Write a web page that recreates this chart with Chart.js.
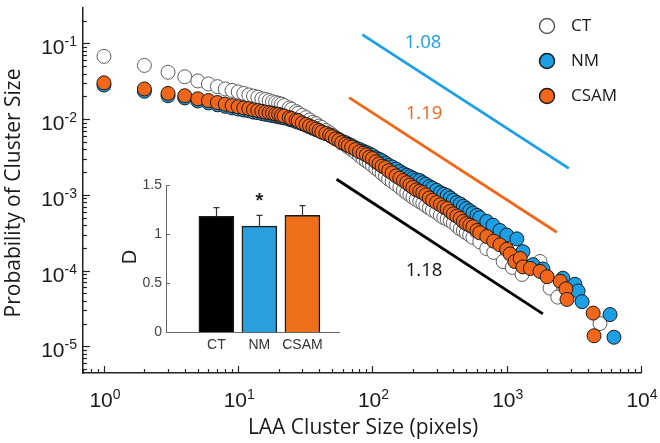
<!DOCTYPE html>
<html>
<head>
<meta charset="utf-8">
<script src="https://cdn.jsdelivr.net/npm/chart.js@4.4.0/dist/chart.umd.min.js"></script>
<style>
  html, body { margin: 0; padding: 0; background: #fff; }
  #wrap { position: relative; width: 660px; height: 443px; }
  #main { position: absolute; left: 0; top: 0; }
  #inset { position: absolute; left: 100px; top: 160px; }
</style>
</head>
<body>
<div id="wrap">
  <canvas id="main" width="660" height="443"></canvas>
  <canvas id="inset" width="250" height="200"></canvas>
</div>
<script>
// cluster size distributions
const ctX = [1,2,3,4,5,6,7,8,9,10,11,12,13,14,15,16,17,18,19,20,21,22,24,25,27,28,30,32,34,36,38,40,42,45,48,50,53,56,59,63,66,70,75,80,85,90,95,100,106,112,118,125,132,140,150,160,170,180,190,200,212,225,237,250,265,280,300,320,340,360,380,400,425,450,475,500,530,560,600,630,710,800,940,1100,1300,1770,2100,2400,4950];
const ctY = [0.0676,0.0513,0.0417,0.0363,0.0320,0.0292,0.0269,0.0251,0.0240,0.0229,0.0219,0.0209,0.0202,0.0195,0.0186,0.0182,0.0176,0.0170,0.0166,0.0162,0.0158,0.0151,0.0141,0.0135,0.0126,0.0120,0.0112,0.0105,0.00977,0.00912,0.00871,0.00813,0.00776,0.00708,0.00661,0.00617,0.00575,0.00537,0.00490,0.00457,0.00427,0.00398,0.00363,0.00331,0.00302,0.00282,0.00263,0.00245,0.00224,0.00209,0.00191,0.00178,0.00162,0.00151,0.00138,0.00126,0.00115,0.00107,0.00100,0.000933,0.000871,0.000813,0.000776,0.000724,0.000676,0.000631,0.000589,0.000537,0.000501,0.000479,0.000457,0.000427,0.000389,0.000355,0.000339,0.000316,0.000295,0.000275,0.000324,0.000240,0.000195,0.000174,0.000132,0.000110,0.0000891,0.000132,0.0000589,0.0000447,0.0000200];

const nmX = [1,2,3,4,5,6,7,8,9,10,11,12,13,14,15,16,17,18,19,20,21,22,24,25,27,28,30,32,34,36,38,40,42,45,48,50,53,56,59,63,66,70,75,80,85,90,95,100,106,112,118,125,132,140,150,160,170,180,190,200,212,225,237,250,265,280,300,320,340,360,380,400,425,450,475,500,530,560,600,630,710,790,890,1000,1190,1320,1570,1860,2620,3220,3400,3640,5880,6290];
const nmY = [0.0282,0.0234,0.0204,0.0191,0.0174,0.0164,0.0155,0.0148,0.0141,0.0136,0.0132,0.0129,0.0124,0.0122,0.0119,0.0116,0.0114,0.0112,0.0110,0.0108,0.0106,0.0104,0.0100,0.00977,0.00933,0.00912,0.00871,0.00832,0.00794,0.00759,0.00733,0.00708,0.00676,0.00646,0.00617,0.00589,0.00562,0.00537,0.00513,0.00490,0.00468,0.00447,0.00417,0.00398,0.00380,0.00363,0.00347,0.00331,0.00309,0.00295,0.00282,0.00263,0.00245,0.00234,0.00219,0.00204,0.00191,0.00182,0.00174,0.00166,0.00158,0.00155,0.00145,0.00138,0.00129,0.00123,0.00115,0.00107,0.00102,0.000977,0.000912,0.000851,0.000794,0.000759,0.000708,0.000661,0.000617,0.000575,0.000537,0.000501,0.000447,0.000398,0.000339,0.000295,0.000263,0.000178,0.000120,0.000105,0.0000794,0.0000661,0.0000537,0.0000389,0.0000263,0.0000132];

const csX = [1,2,3,4,5,6,7,8,9,10,11,12,13,14,15,16,17,18,19,20,21,22,24,25,27,28,30,32,34,36,38,40,42,45,48,50,53,56,59,63,66,70,75,80,85,90,95,100,106,112,118,125,132,140,150,160,170,180,190,200,212,225,237,250,265,280,300,320,340,360,380,400,425,450,475,500,530,560,600,630,710,800,890,1000,1060,1150,1260,1320,1500,1770,2000,2500,2760,2810,4400,4470];
const csY = [0.0302,0.0251,0.0219,0.0204,0.0186,0.0176,0.0166,0.0158,0.0151,0.0146,0.0141,0.0138,0.0133,0.0130,0.0127,0.0124,0.0122,0.0120,0.0117,0.0116,0.0112,0.0110,0.0105,0.0102,0.00977,0.00955,0.00891,0.00851,0.00813,0.00776,0.00741,0.00708,0.00676,0.00646,0.00617,0.00589,0.00550,0.00525,0.00490,0.00468,0.00447,0.00427,0.00398,0.00372,0.00355,0.00339,0.00316,0.00302,0.00275,0.00257,0.00240,0.00229,0.00209,0.00195,0.00178,0.00166,0.00155,0.00145,0.00135,0.00126,0.00117,0.00112,0.00107,0.00100,0.000912,0.000851,0.000794,0.000741,0.000692,0.000661,0.000603,0.000562,0.000525,0.000490,0.000447,0.000417,0.000398,0.000380,0.000339,0.000316,0.000282,0.000245,0.000219,0.000191,0.000166,0.000132,0.000145,0.000112,0.000107,0.0000977,0.0000832,0.0000724,0.0000575,0.0000417,0.0000275,0.0000138];

// slope guide lines (end points)
const fitNmX = [84, 2900],  fitNmY = [0.131, 0.00224];
const fitCsX = [67, 2360],  fitCsY = [0.0193, 0.000321];
const fitCtX = [54, 1860],  fitCtY = [0.00161, 0.0000269];
const fitLabels = ['1.08', '1.19', '1.18'];

// inset: fractal dimension D
const groups = ['CT', 'NM', 'CSAM'];
const dValues = [1.18, 1.08, 1.19];
const dErrors = [0.09, 0.11, 0.10];

const BLUE = '#1c9fe4', ORANGE = '#f26619';
const TICK_FONT = '"Liberation Sans", Arial, sans-serif';
const TEXT_FONT = '"Open Sans", "Noto Sans", sans-serif';

const toPts = (xs, ys) => xs.map((x, i) => ({ x, y: ys[i] }));

function drawPow(ctx, exp, x, y, align) {
  ctx.font = '21px ' + TICK_FONT;
  const wb = ctx.measureText('10').width;
  ctx.font = '14px ' + TICK_FONT;
  const we = ctx.measureText(exp).width;
  let left = align === 'center' ? x - (wb + we) / 2 : x - wb - we;
  ctx.textAlign = 'left';
  ctx.textBaseline = 'alphabetic';
  ctx.font = '21px ' + TICK_FONT;
  ctx.fillText('10', left, y);
  ctx.font = '14px ' + TICK_FONT;
  ctx.fillText(exp, left + wb, y - 8);
}

const mainDecor = {
  id: 'mainDecor',
  afterDraw(chart) {
    const ctx = chart.ctx, xs = chart.scales.x, ys = chart.scales.y, a = chart.chartArea;
    ctx.save();
    ctx.strokeStyle = '#222';
    ctx.lineWidth = 1.2;
    // inward log ticks
    for (let e = -1; e <= 4; e++) {
      for (let k = 1; k <= 9; k++) {
        const v = k * Math.pow(10, e);
        if (v < xs.min || v > xs.max) continue;
        const px = Math.round(xs.getPixelForValue(v)) + 0.5;
        ctx.beginPath();
        ctx.moveTo(px, a.bottom);
        ctx.lineTo(px, a.bottom - (k === 1 ? 7 : 4));
        ctx.stroke();
      }
    }
    for (let e = -6; e <= 0; e++) {
      for (let k = 1; k <= 9; k++) {
        const v = k * Math.pow(10, e);
        if (v < ys.min || v > ys.max) continue;
        const py = Math.round(ys.getPixelForValue(v)) + 0.5;
        ctx.beginPath();
        ctx.moveTo(a.left, py);
        ctx.lineTo(a.left + (k === 1 ? 7 : 4), py);
        ctx.stroke();
      }
    }
    // tick labels
    ctx.fillStyle = '#1a1a1a';
    for (let e = 0; e <= 4; e++) {
      drawPow(ctx, String(e), xs.getPixelForValue(Math.pow(10, e)) + 1, a.bottom + 34, 'center');
    }
    for (let e = -5; e <= -1; e++) {
      drawPow(ctx, String(e), a.left - 6, ys.getPixelForValue(Math.pow(10, e)) + 11, 'right');
    }
    // axis titles
    ctx.font = '21px ' + TEXT_FONT;
    ctx.textAlign = 'center';
    ctx.textBaseline = 'middle';
    ctx.fillText('LAA Cluster Size (pixels)', (a.left + a.right) / 2 + 1, 428);
    ctx.save();
    ctx.translate(14, 193);
    ctx.rotate(-Math.PI / 2);
    ctx.fillText('Probability of Cluster Size', 0, 0);
    ctx.restore();
    // slope labels
    ctx.font = '18.5px ' + TEXT_FONT;
    const labelPos = [[238, 0.103, BLUE], [242, 0.0119, ORANGE], [242, 0.0001, '#111']];
    labelPos.forEach((p, i) => {
      ctx.fillStyle = p[2];
      ctx.fillText(fitLabels[i], xs.getPixelForValue(p[0]), ys.getPixelForValue(p[1]));
    });
    // legend
    const sets = chart.data.datasets.slice(0, 3);
    sets.forEach((d, i) => {
      const y = 26 + i * 35;
      ctx.beginPath();
      ctx.arc(547, y, 7.5, 0, Math.PI * 2);
      ctx.fillStyle = d.backgroundColor;
      ctx.fill();
      ctx.lineWidth = 1.5;
      ctx.strokeStyle = d.borderColor;
      ctx.stroke();
      ctx.fillStyle = '#1a1a1a';
      ctx.font = '17px ' + TEXT_FONT;
      ctx.textAlign = 'left';
      ctx.fillText(d.label, 571, y);
    });
    ctx.restore();
  }
};

new Chart(document.getElementById('main'), {
  type: 'scatter',
  data: {
    datasets: [
      { label: 'CT', data: toPts(ctX, ctY), backgroundColor: '#ffffff', borderColor: '#5c5c5c', borderWidth: 1, pointRadius: 7, order: 3 },
      { label: 'NM', data: toPts(nmX, nmY), backgroundColor: BLUE, borderColor: '#1a1a1a', borderWidth: 1, pointRadius: 7, order: 2 },
      { label: 'CSAM', data: toPts(csX, csY), backgroundColor: ORANGE, borderColor: '#1a1a1a', borderWidth: 1, pointRadius: 7, order: 1 },
      { type: 'line', data: toPts(fitNmX, fitNmY), borderColor: BLUE, borderWidth: 2.8, pointRadius: 0, order: 0 },
      { type: 'line', data: toPts(fitCsX, fitCsY), borderColor: ORANGE, borderWidth: 2.8, pointRadius: 0, order: 0 },
      { type: 'line', data: toPts(fitCtX, fitCtY), borderColor: '#000', borderWidth: 2.8, pointRadius: 0, order: 0 }
    ]
  },
  options: {
    responsive: false,
    animation: false,
    devicePixelRatio: 1,
    layout: { padding: { left: 0, right: 19, top: 3, bottom: 0 } },
    plugins: { legend: { display: false }, tooltip: { enabled: false } },
    scales: {
      x: {
        type: 'logarithmic', min: 0.698, max: 10000,
        grid: { display: false, drawTicks: false },
        ticks: { display: false },
        border: { color: '#222', width: 1.5 },
        afterFit: s => { s.height = 70; }
      },
      y: {
        type: 'logarithmic', min: 0.00000445, max: 0.294,
        grid: { display: false, drawTicks: false },
        ticks: { display: false },
        border: { color: '#222', width: 1.5 },
        afterFit: s => { s.width = 83; }
      }
    }
  },
  plugins: [mainDecor]
});

// inset bar chart
const insetDecor = {
  id: 'insetDecor',
  afterDatasetsDraw(chart) {
    const ctx = chart.ctx, xs = chart.scales.x, ys = chart.scales.y, a = chart.chartArea;
    ctx.save();
    ctx.strokeStyle = '#333';
    ctx.lineWidth = 1.2;
    dValues.forEach((v, i) => {
      const px = Math.round(xs.getPixelForValue(i + 1)) + 0.5;
      const top = ys.getPixelForValue(v + dErrors[i]);
      ctx.beginPath();
      ctx.moveTo(px, ys.getPixelForValue(v));
      ctx.lineTo(px, top);
      ctx.moveTo(px - 3, top);
      ctx.lineTo(px + 3, top);
      ctx.stroke();
    });
    // inward y ticks
    ctx.strokeStyle = '#666';
    ctx.lineWidth = 1;
    [0, 0.5, 1, 1.5].forEach(v => {
      const py = Math.round(ys.getPixelForValue(v)) + 0.5;
      ctx.beginPath();
      ctx.moveTo(a.left, py);
      ctx.lineTo(a.left + 4, py);
      ctx.stroke();
    });
    // significance mark
    ctx.fillStyle = '#222';
    ctx.font = 'bold 20px ' + TICK_FONT;
    ctx.textAlign = 'center';
    ctx.textBaseline = 'middle';
    ctx.fillText('*', xs.getPixelForValue(2), ys.getPixelForValue(1.33));
    // y title
    ctx.font = '20px ' + TICK_FONT;
    ctx.save();
    ctx.translate(30, 97);
    ctx.rotate(-Math.PI / 2);
    ctx.fillText('D', 0, 0);
    ctx.restore();
    ctx.restore();
  }
};

new Chart(document.getElementById('inset'), {
  type: 'bar',
  data: {
    datasets: [{
      data: dValues.map((v, i) => ({ x: i + 1, y: v })),
      backgroundColor: ['#000000', '#2a9fdb', '#ee6f1a'],
      borderColor: '#1a1a1a',
      borderWidth: 1.5,
      barThickness: 35
    }]
  },
  options: {
    responsive: false,
    animation: false,
    devicePixelRatio: 1,
    layout: { padding: { left: 0, right: 11, top: 25, bottom: 0 } },
    plugins: { legend: { display: false }, tooltip: { enabled: false } },
    scales: {
      x: {
        type: 'linear', min: -0.17, max: 3.85, offset: false, bounds: 'data',
        grid: { display: false, drawTicks: false, offset: false },
        border: { color: '#666', width: 1 },
        afterBuildTicks: s => { s.ticks = groups.map((g, i) => ({ value: i + 1 })); },
        ticks: { callback: (v, i) => groups[i], font: { family: TICK_FONT, size: 14 }, color: '#333', padding: 5, maxRotation: 0, autoSkip: false },
        afterFit: s => { s.height = 28; }
      },
      y: {
        min: 0, max: 1.5,
        grid: { display: false, drawTicks: false },
        border: { color: '#666', width: 1 },
        ticks: { stepSize: 0.5, callback: v => String(v), font: { family: TICK_FONT, size: 14 }, color: '#444', padding: 4 },
        afterFit: s => { s.width = 66; }
      }
    }
  },
  plugins: [insetDecor]
});
</script>
</body>
</html>
